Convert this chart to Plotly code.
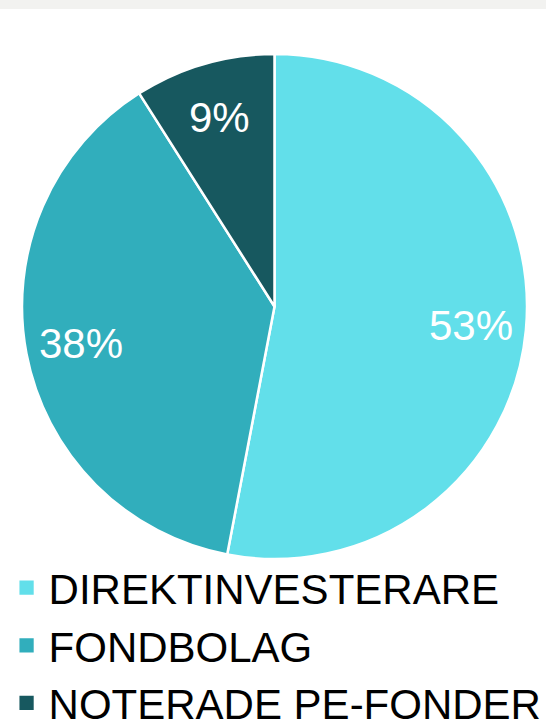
import math
import plotly.graph_objects as go

categories = ["DIREKTINVESTERARE", "FONDBOLAG", "NOTERADE PE-FONDER"]
values = [53, 38, 9]
colors = ["#62DFEA", "#31AEBC", "#17585F"]

W, H = 546, 726
cx, cy, r = 274.5, 306.5, 252.5
FONT = "Liberation Sans, Arial, sans-serif"

fig = go.Figure(go.Pie(
    labels=categories,
    values=values,
    sort=False,
    direction="clockwise",
    rotation=0,
    marker=dict(colors=colors, line=dict(color="white", width=2.5)),
    textinfo="none",
    domain=dict(x=[(cx - r) / W, (cx + r) / W], y=[1 - (cy + r) / H, 1 - (cy - r) / H]),
    hoverinfo="label+percent",
))

# percent labels placed along each slice's mid-angle
total = sum(values)
annotations = []
cum = 0
for v in values:
    mid = (cum + v / 2) / total * 2 * math.pi
    cum += v
    rr = 0.78 * r
    px = cx + rr * math.sin(mid)
    py = cy - rr * math.cos(mid)
    annotations.append(dict(
        x=px / W, y=1 - py / H, xref="paper", yref="paper",
        text=f"{round(v / total * 100)}%", showarrow=False,
        font=dict(family=FONT, size=42, color="white"),
        xanchor="center", yanchor="middle",
    ))

fig.update_layout(
    width=W, height=H,
    margin=dict(l=0, r=0, t=0, b=0, autoexpand=False),
    paper_bgcolor="white",
    showlegend=True,
    legend=dict(
        orientation="v",
        x=0.0157, xanchor="left",
        y=-0.015, yanchor="bottom",
        font=dict(family=FONT, size=42, color="black"),
        itemclick=False,
        bgcolor="rgba(0,0,0,0)",
    ),
    annotations=annotations,
    shapes=[dict(type="rect", xref="paper", yref="paper", x0=0, x1=1, y0=1 - 9 / H, y1=1,
                 fillcolor="#F2F2F0", line=dict(width=0), layer="below")],
)

post = (
    "document.body.style.margin='0';document.body.style.overflow='hidden';"
    "document.querySelectorAll('.legendpoints path').forEach(function(p){"
    "var t=p.getAttribute('transform')||'';"
    "p.setAttribute('transform',t+' translate(-2,0) scale(1.5)');});"
)
fig.write_html("out.html", post_script=post, config={"displayModeBar": False})
